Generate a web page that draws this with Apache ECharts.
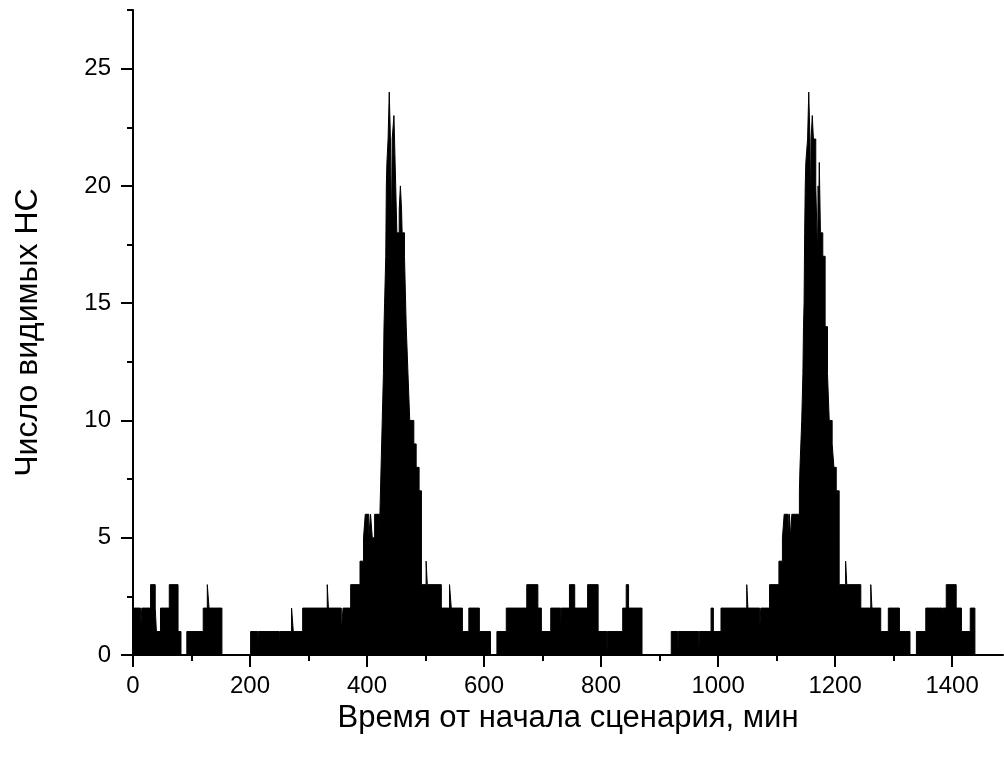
<!DOCTYPE html>
<html>
<head>
<meta charset="utf-8">
<script src="https://cdn.jsdelivr.net/npm/echarts@6/dist/echarts.min.js"></script>
<style>
html,body{margin:0;padding:0;background:#fff;}
#c{width:1004px;height:757px;}
</style>
</head>
<body>
<div id="c"></div>
<script>
// Step data: each run starts at RUN_START[i] (minutes) and holds RUN_VALUE[i] until the next start
const RUN_START = [0,13,15,30,38,40,47,62,77,82,92,120,127,130,152,201,213,214,250,251,271,274,290,
  332,334,356,359,372,388,394,397,403,406,409,413,421,423,424,426,428,429,430,432,433,434,436,438,440,442,443,446,448,451,455,457,459,460,464,467,470,473,480,484,489,493,501,503,527,541,544,563,574,592,611,
  622,638,673,692,698,714,731,732,746,755,777,795,810,811,837,843,847,870,
  920,931,932,967,968,988,992,1005,1049,1051,1071,1073,1088,1104,1110,1113,1120,1122,1124,1126,1139,1140,1143,1145,1146,1147,1148,1149,1150,1153,1155,1157,1158,1159,1161,1163,1167,1170,1171,1172,1173,1175,1179,1183,1187,1190,1195,1198,1202,1207,1218,1220,1244,1261,1263,1278,1291,1310,1328,1339,1355,1383,1384,1390,1407,1416,1431,1439];
const RUN_VALUE = [2,1,2,3,2,1,2,3,1,0,1,2,3,2,0,1,0,1,0,1,2,1,2,
  3,2,1,2,3,4,5,6,5,6,5,6,5,7,8,10,12,14,15,17,20,21,22,24,22,18,22,23,21,18,19,20,19,18,17,14,12,10,9,8,7,3,4,3,2,3,2,1,2,1,0,
  1,2,3,2,1,2,1,2,3,2,3,1,0,1,2,3,2,0,
  1,0,1,0,1,2,1,2,3,2,1,2,3,4,5,6,5,6,5,6,7,8,10,12,14,15,18,20,21,22,24,22,19,22,23,22,20,17,20,19,21,18,17,14,12,10,9,8,7,3,4,3,2,3,2,1,2,1,0,1,2,1,2,3,2,1,2,0];

const X_MAJOR_TICKS = [0,200,400,600,800,1000,1200,1400];
const X_MINOR_TICKS = [100,300,500,700,900,1100,1300];
const Y_MAJOR_TICKS = [0,5,10,15,20,25];
const Y_MINOR_TICKS = [2.5,7.5,12.5,17.5,22.5,27.5];
const X_NAME = 'Время от начала сценария, мин';
const Y_NAME = 'Число видимых НС';

const FONT = '"Liberation Sans", Arial, sans-serif';
const data = RUN_START.map((s, i) => [s, RUN_VALUE[i]]);

const chart = echarts.init(document.getElementById('c'), null, {renderer: 'canvas'});
const lineBlack = {color: '#000', width: 2};
const plain = v => String(v);
chart.setOption({
  animation: false,
  backgroundColor: '#fff',
  grid: {left: 133, top: 10, width: 870, height: 645, containLabel: false, outerBoundsMode: 'none'},
  xAxis: [
    {
      type: 'value', min: 0, max: 1487, interval: 200, position: 'bottom',
      axisLine: {show: true, onZero: false, lineStyle: lineBlack},
      axisTick: {show: true, inside: false, length: 12, lineStyle: lineBlack, customValues: X_MAJOR_TICKS},
      axisLabel: {show: true, margin: 19, color: '#000', fontSize: 24, fontFamily: FONT, formatter: plain, customValues: X_MAJOR_TICKS},
      splitLine: {show: false},
      name: X_NAME, nameLocation: 'middle', nameGap: 43,
      nameTextStyle: {color: '#000', fontSize: 31, fontFamily: FONT}
    },
    {
      type: 'value', min: 0, max: 1487, interval: 100, position: 'bottom',
      axisLine: {show: false},
      axisTick: {show: true, inside: false, length: 6, lineStyle: lineBlack, customValues: X_MINOR_TICKS},
      axisLabel: {show: false},
      splitLine: {show: false}
    }
  ],
  yAxis: [
    {
      type: 'value', min: 0, max: 27.5, interval: 5, position: 'left',
      axisLine: {show: true, onZero: false, lineStyle: lineBlack},
      axisTick: {show: true, inside: false, length: 12, lineStyle: lineBlack, customValues: Y_MAJOR_TICKS},
      axisLabel: {show: true, margin: 22, color: '#000', fontSize: 24, fontFamily: FONT, formatter: plain, customValues: Y_MAJOR_TICKS},
      splitLine: {show: false},
      name: Y_NAME, nameLocation: 'middle', nameGap: 89,
      nameTextStyle: {color: '#000', fontSize: 32, fontFamily: FONT}
    },
    {
      type: 'value', min: 0, max: 27.5, interval: 2.5, position: 'left',
      axisLine: {show: false},
      axisTick: {show: true, inside: false, length: 6, lineStyle: lineBlack, customValues: Y_MINOR_TICKS},
      axisLabel: {show: false},
      splitLine: {show: false}
    }
  ],
  series: [{
    type: 'line', xAxisIndex: 0, yAxisIndex: 0,
    data: data, step: 'end', symbol: 'none', showSymbol: false,
    lineStyle: {color: '#000', width: 1},
    areaStyle: {color: '#000', opacity: 1},
    itemStyle: {color: '#000'},
    silent: true
  }]
});
</script>
</body>
</html>
